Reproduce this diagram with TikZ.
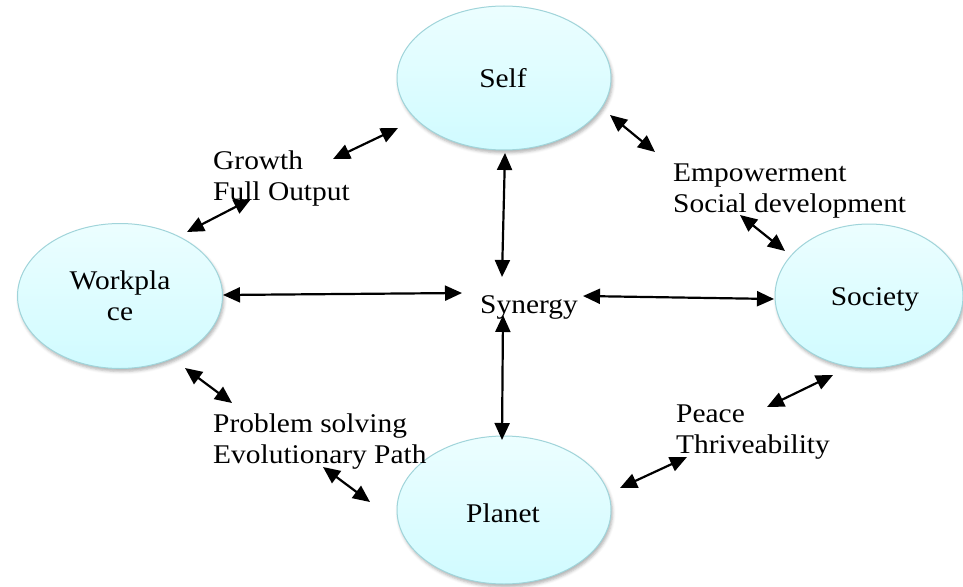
\documentclass[tikz,border=0pt]{standalone}
\usepackage{fontspec}
\setmainfont{Liberation Serif}[FakeStretch=1.09]
\usetikzlibrary{shapes.geometric,arrows.meta,shadows.blur}
\definecolor{elltop}{RGB}{236,254,255}
\definecolor{ellbot}{RGB}{208,251,255}
\definecolor{ellline}{RGB}{160,212,218}
\tikzset{
  bubble/.style={ellipse, draw=ellline, line width=1pt, top color=elltop, bottom color=ellbot,
    inner sep=0pt, align=center, font=\fontsize{27}{31}\selectfont,
    blur shadow={shadow xshift=1.5pt, shadow yshift=-3pt, shadow blur radius=3pt, shadow opacity=30}},
  txt/.style={inner sep=0pt, font=\fontsize{27}{31}\selectfont},
  lbl/.style={txt, anchor=north west, align=left},
  link/.style={line width=2.2pt, {Triangle[length=17pt,width=15pt]}-{Triangle[length=17pt,width=15pt]}}
}
\begin{document}
\begin{tikzpicture}[x=1pt,y=-1pt]
\useasboundingbox (0,0) rectangle (963,586);
% ellipses
\node[bubble, minimum width=214pt, minimum height=144pt] (self) at (504,78) {};
\node[bubble, minimum width=205pt, minimum height=145pt] (work) at (120,296) {};
\node[bubble, minimum width=188pt, minimum height=144pt] (soc) at (869,296) {};
\node[bubble, minimum width=214pt, minimum height=148pt] (planet) at (504,510) {};
% ellipse texts
\node[txt, anchor=base] (selft) at (503,88) {Self};
\node[txt, anchor=center, align=center] (workt) at (120,296) {Workpla\\ce};
\node[txt, anchor=base] (soct) at (875,305) {Society};
\node[txt, anchor=base] (planett) at (503,522) {Planet};
\node[txt, anchor=base] (syn) at (529,313) {Synergy};
% labels
\node[lbl] (grow) at (213,151) {Growth\\Full Output};
\node[lbl] (emp) at (673,164) {Empowerment\\Social development};
\node[lbl] (prob) at (213,414) {Problem solving\\Evolutionary Path};
\node[lbl] (peace) at (676,405) {Peace\\Thriveability};
% arrow end points
\coordinate (a1) at (333,159); \coordinate (a2) at (398,128);
\coordinate (b1) at (187,232); \coordinate (b2) at (251,199);
\coordinate (c1) at (610,115); \coordinate (c2) at (655,152);
\coordinate (d1) at (740,215); \coordinate (d2) at (785,251);
\coordinate (e1) at (185,368); \coordinate (e2) at (232,403);
\coordinate (f1) at (323,467); \coordinate (f2) at (370,502);
\coordinate (g1) at (767,407); \coordinate (g2) at (833,375);
\coordinate (h1) at (620,488); \coordinate (h2) at (687,457);
\coordinate (v1) at (505,153); \coordinate (v2) at (502,277);
\coordinate (w1) at (503,315); \coordinate (w2) at (502,440);
\coordinate (l1) at (223,295); \coordinate (l2) at (462,293);
\coordinate (r1) at (583,296); \coordinate (r2) at (774,299);
% arrows
\draw[link] (a1) -- (a2);
\draw[link] (b1) -- (b2);
\draw[link] (c1) -- (c2);
\draw[link] (d1) -- (d2);
\draw[link] (e1) -- (e2);
\draw[link] (f1) -- (f2);
\draw[link] (g1) -- (g2);
\draw[link] (h1) -- (h2);
\draw[link] (v1) -- (v2);
\draw[link] (w1) -- (w2);
\draw[link] (l1) -- (l2);
\draw[link] (r1) -- (r2);
\end{tikzpicture}
\end{document}
